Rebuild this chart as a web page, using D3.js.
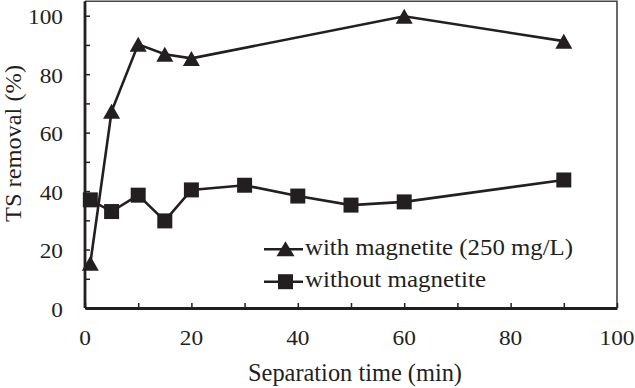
<!DOCTYPE html>
<html>
<head>
<meta charset="utf-8">
<script src="https://cdn.jsdelivr.net/npm/d3@7"></script>
<style>
  body { margin: 0; background: #fff; }
</style>
</head>
<body>
<script>
// separation time (min)
var timeWith = [1, 5, 10, 15, 20, 60, 90];
var removalWith = [15.3, 67.3, 90.2, 86.8, 85.4, 99.8, 91.3];
var timeWithout = [1, 5, 10, 15, 20, 30, 40, 50, 60, 90];
var removalWithout = [37, 33, 38.6, 29.8, 40.4, 42, 38.3, 35.2, 36.3, 43.8];
var seriesNames = ["with magnetite (250 mg/L)", "without magnetite"];
var xTicks = [0, 20, 40, 60, 80, 100];
var yTicks = [0, 20, 40, 60, 80, 100];

var W = 635, H = 388;
var ink = "#231f20";
var serif = "'Liberation Serif'";

var svg = d3.select("body").append("svg")
  .attr("width", W)
  .attr("height", H);

var x = d3.scaleLinear().domain([0, 100]).range([85, 617]);
var y = d3.scaleLinear().domain([0, 100]).range([308, 15.7]);

// the original type is a bit wider than Liberation Serif, stretch to fit
function stretch(sel, k) {
  sel.each(function() {
    var len = this.getComputedTextLength();
    d3.select(this).attr("textLength", len * k).attr("lengthAdjust", "spacingAndGlyphs");
  });
}
function txt(parent, s, size) {
  return parent.append("text")
    .style("font-family", serif)
    .style("font-size", size + "px")
    .attr("fill", ink)
    .text(s);
}

// frame top / right (thin grey)
svg.append("path")
  .attr("d", "M85,1.2H" + x(100) + "V308")
  .attr("fill", "none")
  .attr("stroke", "#444")
  .attr("stroke-width", 1.6);

// axes, ticks pointing inward
var gx = svg.append("g").attr("transform", "translate(0,308)")
  .call(d3.axisBottom(x).tickValues(d3.range(0, 101, 10)).tickSize(-5).tickSizeOuter(0).tickFormat(""));
gx.select(".domain").attr("stroke", ink).attr("stroke-width", 2.8);
gx.selectAll(".tick line").attr("stroke", ink).attr("stroke-width", 1.5);

var gy = svg.append("g").attr("transform", "translate(85,0)")
  .call(d3.axisLeft(y).tickValues(d3.range(0, 101, 10)).tickSize(-5).tickSizeOuter(0).tickFormat(""));
gy.select(".domain").attr("stroke", ink).attr("stroke-width", 2.8)
  .attr("d", "M0,1.2V308");
gy.selectAll(".tick line").attr("stroke", ink).attr("stroke-width", 1.5);

// tick labels
xTicks.forEach(function(d) {
  txt(svg, d, 21).attr("x", x(d)).attr("y", 345).attr("text-anchor", "middle")
    .call(stretch, 1.11);
});
yTicks.forEach(function(d) {
  txt(svg, d, 21).attr("x", 63).attr("y", y(d) + 8.5).attr("text-anchor", "end")
    .call(stretch, 1.11);
});

// axis titles
txt(svg, "Separation time (min)", 25)
  .attr("x", 355).attr("y", 381).attr("text-anchor", "middle")
  .attr("textLength", 214).attr("lengthAdjust", "spacingAndGlyphs");

txt(svg, "TS removal (%)", 24)
  .attr("transform", "translate(21,143.5) rotate(-90)")
  .attr("text-anchor", "middle")
  .attr("textLength", 157).attr("lengthAdjust", "spacingAndGlyphs");

var line = d3.line().x(function(d) { return x(d[0]); }).y(function(d) { return y(d[1]); });
// triangle: 17 wide, 15 tall, centred on its box
var triPath = "M0,-7.5L8.5,7.5L-8.5,7.5Z";
var square = d3.symbol().type(d3.symbolSquare).size(225);

var dWith = d3.zip(timeWith, removalWith);
var dWithout = d3.zip(timeWithout, removalWithout);

svg.append("path").datum(dWithout)
  .attr("d", line).attr("fill", "none").attr("stroke", ink).attr("stroke-width", 2.6);
svg.append("path").datum(dWith)
  .attr("d", line).attr("fill", "none").attr("stroke", ink).attr("stroke-width", 2.6);

svg.selectAll(".sq").data(dWithout).enter().append("path")
  .attr("transform", function(d) { return "translate(" + x(d[0]) + "," + y(d[1]) + ")"; })
  .attr("d", square).attr("fill", ink);

svg.selectAll(".tri").data(dWith).enter().append("path")
  .attr("transform", function(d) { return "translate(" + x(d[0]) + "," + y(d[1]) + ")"; })
  .attr("d", triPath).attr("fill", ink);

// legend
var legY = [249.3, 281.7];
var legW = [268, 181];
seriesNames.forEach(function(name, i) {
  var g = svg.append("g").attr("transform", "translate(0," + legY[i] + ")");
  g.append("line").attr("x1", 264).attr("x2", 303).attr("y1", 0).attr("y2", 0)
    .attr("stroke", ink).attr("stroke-width", 2.6);
  if (i === 0) {
    g.append("path").attr("transform", "translate(285.5,-0.5) scale(1.06,1)")
      .attr("d", triPath).attr("fill", ink);
  } else {
    g.append("path").attr("transform", "translate(285.5,0)")
      .attr("d", square).attr("fill", ink);
  }
  txt(g, name, 23).attr("x", 305).attr("y", 5.5)
    .attr("textLength", legW[i]).attr("lengthAdjust", "spacingAndGlyphs");
});
</script>
</body>
</html>
